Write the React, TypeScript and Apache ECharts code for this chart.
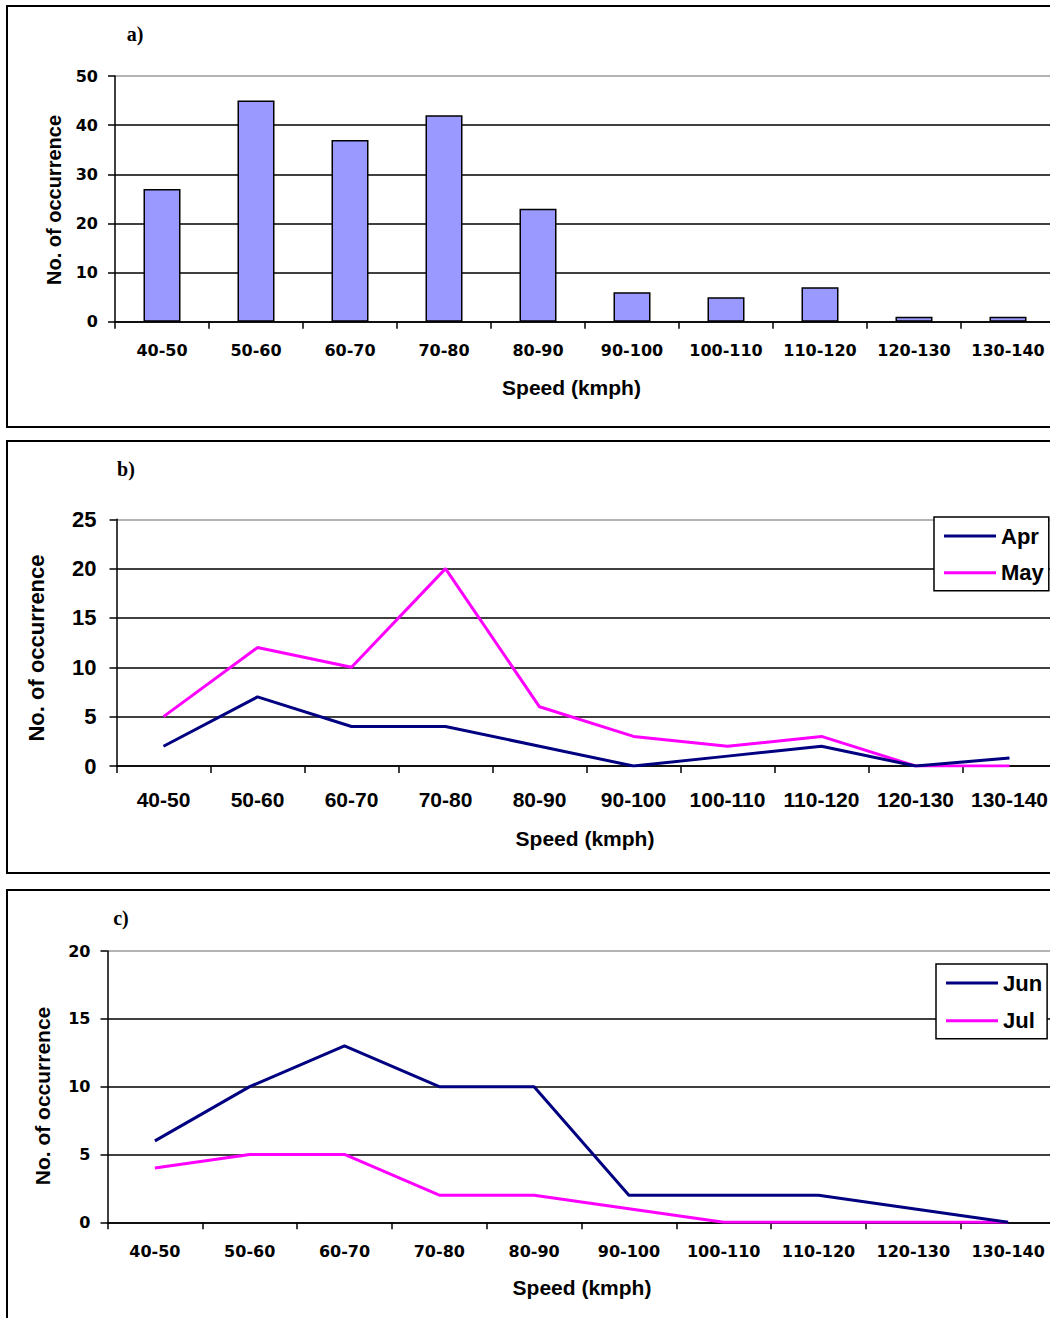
import React, { useEffect, useRef } from "react";
import * as echarts from "echarts";

const categories = ["40-50", "50-60", "60-70", "70-80", "80-90", "90-100", "100-110", "110-120", "120-130", "130-140"];
const allCounts = [27, 45, 37, 42, 23, 6, 5, 7, 1, 1];
const aprCounts = [2, 7, 4, 4, 2, 0, 1, 2, 0, 0.8];
const mayCounts = [5, 12, 10, 20, 6, 3, 2, 3, 0, 0];
const junCounts = [6, 10, 13, 10, 10, 2, 2, 2, 1, 0];
const julCounts = [4, 5, 5, 2, 2, 1, 0, 0, 0, 0];
const yMaxA = 50, yStepA = 10;
const yMaxB = 25, yStepB = 5;
const yMaxC = 20, yStepC = 5;

const SANS = "'Liberation Sans', Arial, sans-serif";
const WIDE = "'DejaVu Sans', sans-serif";
const SERIF = "'Liberation Serif', 'Times New Roman', serif";
const NAVY = "#000080";
const MAGENTA = "#FF00FF";

function splitColors(max: number, step: number) {
  const n = Math.round(max / step) + 1;
  const arr: string[] = [];
  for (let i = 0; i < n; i++) arr.push(i === n - 1 ? "#9a9a9a" : "#000");
  return arr;
}

function xAxisCfg(gridIndex: number, fontFamily: string, fontSize: number, margin: number) {
  return {
    type: "category",
    gridIndex,
    data: categories,
    boundaryGap: true,
    axisLine: { show: true, lineStyle: { color: "#000", width: 1.5 } },
    axisTick: { show: true, length: 7, lineStyle: { color: "#000", width: 1.5 } },
    axisLabel: { interval: 0, margin, color: "#000", fontFamily, fontSize, fontWeight: "bold" },
    splitLine: { show: false },
  };
}

function yAxisCfg(gridIndex: number, max: number, step: number, fontFamily: string, fontSize: number, margin: number) {
  return {
    type: "value",
    gridIndex,
    min: 0,
    max,
    interval: step,
    axisLine: { show: true, lineStyle: { color: "#000", width: 1.5 } },
    axisTick: { show: true, length: 7, lineStyle: { color: "#000", width: 1.5 } },
    axisLabel: { margin, color: "#000", fontFamily, fontSize, fontWeight: "bold" },
    splitLine: { show: true, lineStyle: { color: splitColors(max, step), width: 1.5 } },
  };
}

function txt(x: number, y: number, text: string, font: string, rotation = 0) {
  return {
    type: "text",
    x,
    y,
    rotation,
    style: { text, font, fill: "#000", align: "center", verticalAlign: "middle" },
    z: 10,
  };
}

function frame(x: number, y: number, w: number, h: number) {
  return {
    type: "rect",
    shape: { x, y, width: w, height: h },
    style: { fill: "none", stroke: "#000", lineWidth: 2 },
    z: 0,
  };
}

export default function App() {
  const ref = useRef<HTMLDivElement>(null);

  useEffect(() => {
    if (!ref.current) return;
    const chart = echarts.init(ref.current, undefined, { renderer: "svg" });
    const option = {
      animation: false,
      backgroundColor: "#fff",
      grid: [
        { left: 115, top: 76, width: 940, height: 245.7 },
        { left: 116.5, top: 519.3, width: 940, height: 246.7 },
        { left: 107.5, top: 951, width: 948, height: 271.3 },
      ],
      xAxis: [
        xAxisCfg(0, WIDE, 16, 21),
        xAxisCfg(1, SANS, 21, 23),
        xAxisCfg(2, WIDE, 16, 21),
      ],
      yAxis: [
        yAxisCfg(0, yMaxA, yStepA, WIDE, 16, 17),
        yAxisCfg(1, yMaxB, yStepB, SANS, 22, 20),
        yAxisCfg(2, yMaxC, yStepC, WIDE, 16, 17),
      ],
      legend: [
        {
          data: ["Apr", "May"],
          orient: "vertical",
          left: 934,
          top: 517,
          padding: [8, 5, 7, 10],
          itemGap: 14.7,
          itemWidth: 52,
          itemHeight: 3,
          icon: "rect",
          backgroundColor: "#fff",
          borderColor: "#000",
          borderWidth: 1.5,
          borderRadius: 0,
          textStyle: { color: "#000", fontFamily: SANS, fontSize: 22, fontWeight: "bold" },
        },
        {
          data: ["Jun", "Jul"],
          orient: "vertical",
          left: 936,
          top: 964,
          padding: [8, 5, 7, 10],
          itemGap: 15.7,
          itemWidth: 52,
          itemHeight: 3,
          icon: "rect",
          backgroundColor: "#fff",
          borderColor: "#000",
          borderWidth: 1.5,
          borderRadius: 0,
          textStyle: { color: "#000", fontFamily: SANS, fontSize: 22, fontWeight: "bold" },
        },
      ],
      series: [
        {
          name: "All",
          type: "bar",
          xAxisIndex: 0,
          yAxisIndex: 0,
          data: allCounts,
          barWidth: 37,
          itemStyle: { color: "#9999FF", borderColor: "#000", borderWidth: 1.5 },
        },
        {
          name: "Apr",
          type: "line",
          xAxisIndex: 1,
          yAxisIndex: 1,
          data: aprCounts,
          showSymbol: false,
          symbol: "none",
          color: NAVY,
          lineStyle: { color: NAVY, width: 3 },
          z: 3,
        },
        {
          name: "May",
          type: "line",
          xAxisIndex: 1,
          yAxisIndex: 1,
          data: mayCounts,
          showSymbol: false,
          symbol: "none",
          color: MAGENTA,
          lineStyle: { color: MAGENTA, width: 3 },
          z: 2,
        },
        {
          name: "Jun",
          type: "line",
          xAxisIndex: 2,
          yAxisIndex: 2,
          data: junCounts,
          showSymbol: false,
          symbol: "none",
          color: NAVY,
          lineStyle: { color: NAVY, width: 3 },
          z: 3,
        },
        {
          name: "Jul",
          type: "line",
          xAxisIndex: 2,
          yAxisIndex: 2,
          data: julCounts,
          showSymbol: false,
          symbol: "none",
          color: MAGENTA,
          lineStyle: { color: MAGENTA, width: 3 },
          z: 2,
        },
      ],
      graphic: [
        frame(7, 6, 1100, 421),
        frame(7, 441, 1100, 432),
        frame(7, 890, 1100, 500),
        txt(135, 34, "a)", `bold 20px ${SERIF}`),
        txt(126, 469, "b)", `bold 20px ${SERIF}`),
        txt(121, 918, "c)", `bold 20px ${SERIF}`),
        txt(54, 200, "No. of occurrence", `bold 20px ${SANS}`, Math.PI / 2),
        txt(36, 648, "No. of occurrence", `bold 22px ${SANS}`, Math.PI / 2),
        txt(42.5, 1096, "No. of occurrence", `bold 21px ${SANS}`, Math.PI / 2),
        txt(571.5, 387, "Speed (kmph)", `bold 21px ${SANS}`),
        txt(585, 838, "Speed (kmph)", `bold 21px ${SANS}`),
        txt(582, 1287, "Speed (kmph)", `bold 21px ${SANS}`),
      ],
    };
    chart.setOption(option as any);
    return () => {
      chart.dispose();
    };
  }, []);

  return (
    <div style={{ position: "absolute", left: 0, top: 0, width: 1050, height: 1318, overflow: "hidden", background: "#fff" }}>
      <div ref={ref} style={{ width: 1100, height: 1318 }} />
    </div>
  );
}
